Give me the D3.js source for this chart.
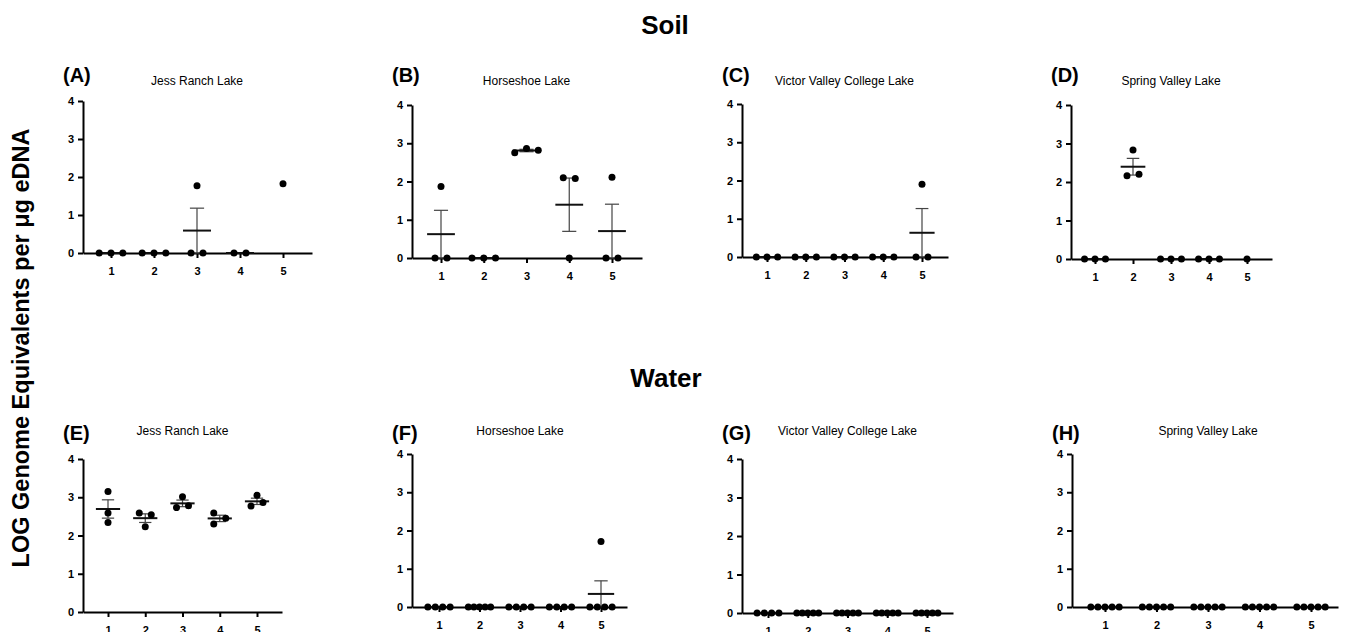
<!DOCTYPE html>
<html>
<head>
  <meta charset="utf-8">
  <style>
    body { margin: 0; background: #fff; }
    svg text { font-family: "Liberation Sans", Arial, Helvetica, sans-serif; }
    .axis path, .axis line { stroke: #000; stroke-width: 2; }
    .axis text { font-size: 11px; font-weight: bold; fill: #000; }
  </style>
</head>
<body>
  <script src="https://cdn.jsdelivr.net/npm/d3@7/dist/d3.min.js"></script>
  <script>
    // ---- data ----
    var sites = ["Jess Ranch Lake", "Horseshoe Lake", "Victor Valley College Lake", "Spring Valley Lake"];
    var panelLetters = ["(A)", "(B)", "(C)", "(D)", "(E)", "(F)", "(G)", "(H)"];
    var sampleLabels = ["1", "2", "3", "4", "5"];
    var yTicks = [0, 1, 2, 3, 4];

    // soil, one list of replicate values per sample
    var soilJessRanch    = [[0, 0, 0], [0, 0, 0], [0, 1.77, 0], [0, 0], [1.82]];
    var soilHorseshoe    = [[0, 1.87, 0], [0, 0, 0], [2.86, 2.75, 2.82], [2.08, 0, 2.10], [0, 2.11, 0]];
    var soilVictorValley = [[0, 0, 0], [0, 0, 0], [0, 0, 0], [0, 0, 0], [0, 1.90, 0]];
    var soilSpringValley = [[0, 0, 0], [2.20, 2.16, 2.83], [0, 0, 0], [0, 0, 0], [0]];

    // water
    var waterJessRanch    = [[3.15, 2.59, 2.34], [2.54, 2.59, 2.23], [2.78, 2.73, 3.01], [2.45, 2.30, 2.59], [2.86, 2.77, 3.05]];
    var waterHorseshoe    = [[0, 0, 0, 0], [0, 0, 0, 0, 0], [0, 0, 0, 0], [0, 0, 0, 0], [0, 0, 0, 0, 1.71]];
    var waterVictorValley = [[0, 0, 0, 0], [0, 0, 0, 0, 0], [0, 0, 0, 0, 0], [0, 0, 0, 0, 0], [0, 0, 0, 0, 0]];
    var waterSpringValley = [[0, 0, 0, 0, 0], [0, 0, 0, 0, 0], [0, 0, 0, 0, 0], [0, 0, 0, 0, 0], [0, 0, 0, 0, 0]];

    var panelData = [soilJessRanch, soilHorseshoe, soilVictorValley, soilSpringValley,
                     waterJessRanch, waterHorseshoe, waterVictorValley, waterSpringValley];

    // ---- layout (pixel boxes of each small plot) ----
    // ax/end = x axis extent, t1/t5 = position of first/last category, y0/y4 = y of 0 and 4
    var layout = [
      {ax: 83,   end: 312,  t1: 111,  t5: 283,  y0: 253, y4: 101},
      {ax: 412,  end: 642,  t1: 441,  t5: 612,  y0: 258, y4: 105},
      {ax: 742,  end: 948,  t1: 767,  t5: 922,  y0: 257, y4: 104},
      {ax: 1071, end: 1272, t1: 1095, t5: 1247, y0: 259, y4: 105},
      {ax: 83,   end: 282,  t1: 108,  t5: 257,  y0: 612, y4: 459},
      {ax: 412,  end: 627,  t1: 439,  t5: 601,  y0: 607, y4: 454},
      {ax: 742,  end: 953,  t1: 768,  t5: 927,  y0: 613, y4: 459},
      {ax: 1072, end: 1338, t1: 1105, t5: 1311, y0: 607, y4: 454}
    ];

    var width = 1351, height = 632;
    var dotR = 3.5, collide = 7;

    var svg = d3.select("body")
                .append("svg")
                .attr("width", width)
                .attr("height", height);

    // section headings
    svg.append("text").attr("x", 665).attr("y", 34).attr("text-anchor", "middle")
       .style("font-size", "26px").style("font-weight", "bold").text("Soil");
    svg.append("text").attr("x", 666).attr("y", 387).attr("text-anchor", "middle")
       .style("font-size", "26px").style("font-weight", "bold").text("Water");

    // shared y label
    svg.append("text")
       .attr("transform", "translate(29,348) rotate(-90)")
       .attr("text-anchor", "middle")
       .style("font-size", "23.5px").style("font-weight", "bold")
       .text("LOG Genome Equivalents per \u03BCg eDNA");

    // spread replicates sideways like a scatter-dot plot
    function spread(values, y, step) {
      var pts = values.map(function(v, i) { return {v: v, i: i, py: y(v)}; });
      var sorted = pts.slice().sort(function(a, b) { return a.py - b.py; });
      var clusters = [], cur = [];
      sorted.forEach(function(p, k) {
        if (k > 0 && Math.abs(p.py - sorted[k - 1].py) >= collide) { clusters.push(cur); cur = []; }
        cur.push(p);
      });
      if (cur.length) clusters.push(cur);

      clusters.forEach(function(cl) {
        var members = cl.slice().sort(function(a, b) { return a.i - b.i; });
        var placed = [];
        members.forEach(function(p) {
          var order = [0], k;
          for (k = 1; k < 10; k++) { order.push(-k); order.push(k); }
          for (k = 0; k < order.length; k++) {
            var s = order[k];
            var hit = placed.some(function(q) { return q.slot === s && Math.abs(q.py - p.py) < collide; });
            if (!hit) { p.slot = s; break; }
          }
          placed.push(p);
        });
        var lo = d3.min(members, function(p) { return p.slot; });
        var hi = d3.max(members, function(p) { return p.slot; });
        var gap = hi > lo ? Math.min(12, 0.55 * step / (hi - lo)) : 0;
        members.forEach(function(p) { p.dx = (p.slot - (lo + hi) / 2) * gap; });
      });
      return pts;
    }

    panelData.forEach(function(groups, pi) {
      var L = layout[pi];
      var step = (L.t5 - L.t1) / 4;

      var xc = d3.scaleLinear().domain([1, 5]).range([L.t1, L.t5]);
      var x = d3.scaleLinear().domain([xc.invert(L.ax), xc.invert(L.end)]).range([L.ax, L.end]);
      var y = d3.scaleLinear().domain([0, 4]).range([L.y0, L.y4]);

      var g = svg.append("g");

      // panel letter and site name
      g.append("text").attr("x", L.ax - 20).attr("y", pi < 4 ? 82 : 440)
       .style("font-size", "20px").style("font-weight", "bold")
       .text(panelLetters[pi]);
      g.append("text").attr("x", x(3)).attr("y", pi < 4 ? 85 : 435)
       .attr("text-anchor", "middle").style("font-size", "12px")
       .text(sites[pi % 4]);

      // axes
      g.append("g").attr("class", "axis")
       .attr("transform", "translate(0," + L.y0 + ")")
       .call(d3.axisBottom(x).tickValues([1, 2, 3, 4, 5])
             .tickFormat(function(d) { return sampleLabels[d - 1]; })
             .tickSize(5).tickSizeOuter(0).tickPadding(9));
      g.append("g").attr("class", "axis")
       .attr("transform", "translate(" + L.ax + ",0)")
       .call(d3.axisLeft(y).tickValues(yTicks).tickFormat(d3.format("d"))
             .tickSize(5).tickSizeOuter(0).tickPadding(4));

      groups.forEach(function(vals, gi) {
        var cx = x(gi + 1);

        // mean and SEM
        if (vals.length > 1) {
          var m = d3.mean(vals);
          var sem = d3.deviation(vals) / Math.sqrt(vals.length);
          var capW = 0.33 * step / 2, meanW = 0.65 * step / 2;
          g.append("line").attr("x1", cx).attr("x2", cx)
           .attr("y1", y(m - sem)).attr("y2", y(m + sem))
           .attr("stroke", "#444").attr("stroke-width", 1.2);
          [m - sem, m + sem].forEach(function(v) {
            g.append("line").attr("x1", cx - capW).attr("x2", cx + capW)
             .attr("y1", y(v)).attr("y2", y(v))
             .attr("stroke", "#444").attr("stroke-width", 1.2);
          });
          g.append("line").attr("x1", cx - meanW).attr("x2", cx + meanW)
           .attr("y1", y(m)).attr("y2", y(m))
           .attr("stroke", "#111").attr("stroke-width", 2);
        }

        // replicate dots
        g.selectAll(null)
         .data(spread(vals, y, step))
         .enter()
         .append("circle")
         .attr("cx", function(d) { return cx + d.dx; })
         .attr("cy", function(d) { return d.py; })
         .attr("r", dotR)
         .attr("fill", "#000");
      });
    });
  </script>
</body>
</html>
